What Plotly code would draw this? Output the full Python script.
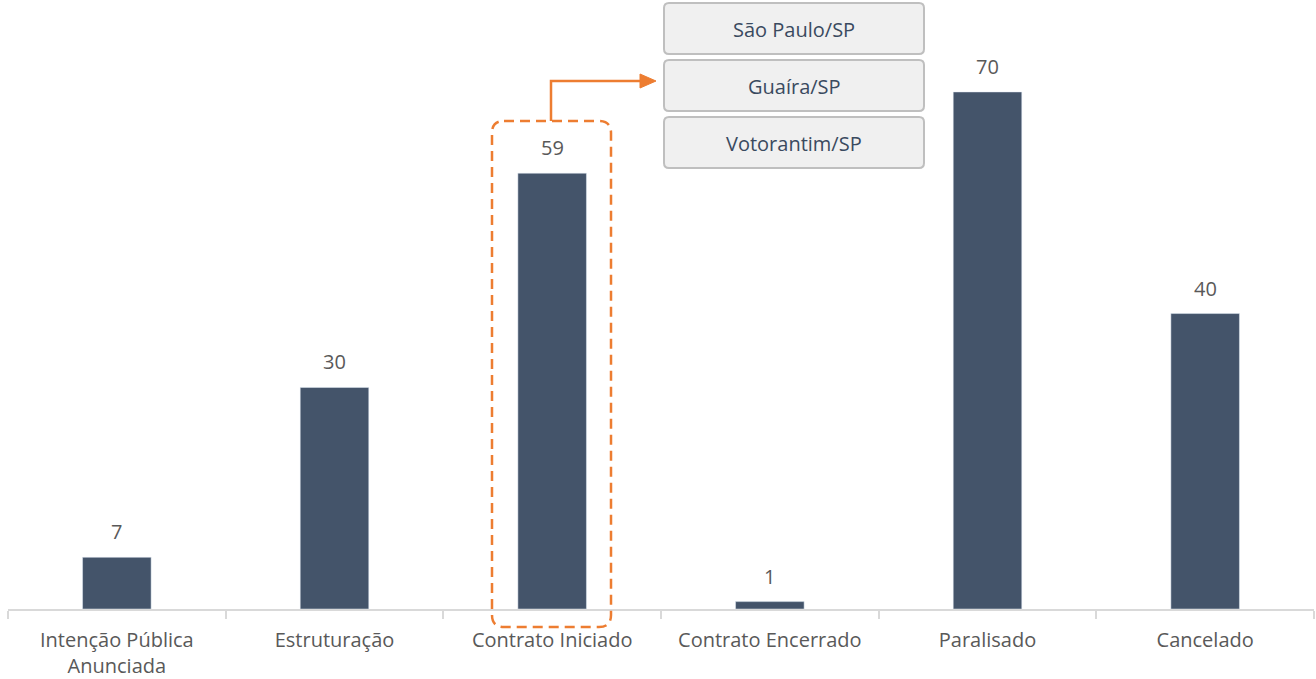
import plotly.graph_objects as go

categories = ["Intenção Pública<br>Anunciada", "Estruturação", "Contrato Iniciado",
              "Contrato Encerrado", "Paralisado", "Cancelado"]
values = [7, 30, 59, 1, 70, 40]
cities = ["São Paulo/SP", "Guaíra/SP", "Votorantim/SP"]

W, H = 1316, 679
L, R, T, B = 8, 2, 0, 70
PW, PH = W - L - R, H - T - B
YMAX = 82.45

def px(x):
    return (x - L) / PW

def py(y):
    return (H - B - y) / PH

def rrect(x0, y0, x1, y1, r):
    pts = (f"M {px(x0 + r)},{py(y0)} L {px(x1 - r)},{py(y0)} Q {px(x1)},{py(y0)} {px(x1)},{py(y0 + r)} "
           f"L {px(x1)},{py(y1 - r)} Q {px(x1)},{py(y1)} {px(x1 - r)},{py(y1)} "
           f"L {px(x0 + r)},{py(y1)} Q {px(x0)},{py(y1)} {px(x0)},{py(y1 - r)} "
           f"L {px(x0)},{py(y0 + r)} Q {px(x0)},{py(y0)} {px(x0 + r)},{py(y0)} Z")
    return pts

FONT = "Open Sans"

fig = go.Figure()
fig.add_trace(go.Bar(x=categories, y=values, marker_color="#44546A", width=0.315,
                     hoverinfo="x+y"))

annotations = []
for c, v in zip(categories, values):
    annotations.append(dict(x=c, y=v, text=str(v), showarrow=False, yanchor="bottom",
                            yshift=10, font=dict(size=20, color="#595959", family=FONT)))

shapes = []
# orange dashed highlight box
shapes.append(dict(type="path", xref="paper", yref="paper", path=rrect(492, 121, 611, 627, 12),
                   line=dict(color="#ED7D31", width=2.5, dash="10px,6px"), fillcolor="rgba(0,0,0,0)"))
# arrow line
shapes.append(dict(type="path", xref="paper", yref="paper",
                   path=f"M {px(551)},{py(121)} L {px(551)},{py(81)} L {px(644)},{py(81)}",
                   line=dict(color="#ED7D31", width=2.5)))
shapes.append(dict(type="path", xref="paper", yref="paper",
                   path=f"M {px(640)},{py(74)} L {px(656)},{py(81)} L {px(640)},{py(88)} Z",
                   line=dict(color="#ED7D31", width=1), fillcolor="#ED7D31"))

box_tops = [3, 60, 117]
for city, top in zip(cities, box_tops):
    shapes.append(dict(type="path", xref="paper", yref="paper",
                       path=rrect(664, top, 924, top + 51, 5),
                       line=dict(color="#BFBFBF", width=2), fillcolor="#F0F0F0"))
    annotations.append(dict(xref="paper", yref="paper", x=px(794), y=py(top + 26), text=city,
                            showarrow=False, xanchor="center", yanchor="middle",
                            font=dict(size=20, color="#3A4A5F", family=FONT)))

fig.update_layout(
    width=W, height=H, margin=dict(l=L, r=R, t=T, b=B),
    paper_bgcolor="white", plot_bgcolor="white", showlegend=False,
    shapes=shapes, annotations=annotations,
    font=dict(family=FONT, color="#595959"),
    xaxis=dict(showline=True, linecolor="#D9D9D9", linewidth=2, ticks="outside",
               tickson="boundaries", ticklen=8, tickcolor="#D9D9D9", tickwidth=2,
               ticklabelstandoff=12,
               tickfont=dict(size=20, color="#595959"), showgrid=False),
    yaxis=dict(range=[0, YMAX], visible=False, showgrid=False, zeroline=False),
)

fig.write_html("out.html", config={"displayModeBar": False},
               post_script="document.body.style.margin='0';")
